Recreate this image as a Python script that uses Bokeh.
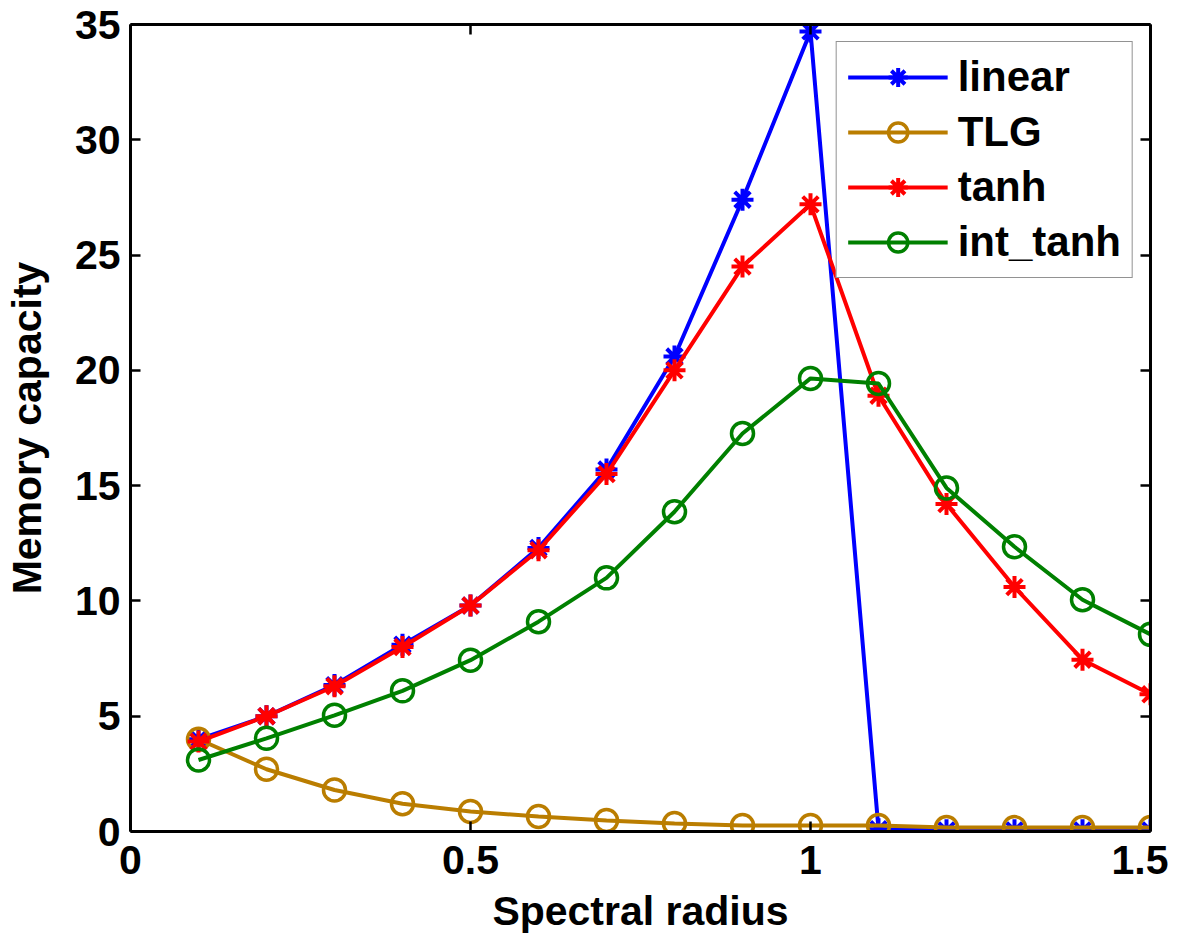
from bokeh.plotting import figure
from bokeh.models import Range1d, LinearAxis, FixedTicker, Legend
from bokeh.embed import file_html
from bokeh.resources import INLINE

x = [0.1, 0.2, 0.3, 0.4, 0.5, 0.6, 0.7, 0.8, 0.9, 1.0, 1.1, 1.2, 1.3, 1.4, 1.5]
linear = [4.0, 5.0, 6.35, 8.1, 9.8, 12.3, 15.7, 20.6, 27.4, 34.7, 0.1, 0.05, 0.05, 0.05, 0.05]
tlg = [4.0, 2.7, 1.8, 1.2, 0.87, 0.65, 0.48, 0.35, 0.26, 0.26, 0.26, 0.17, 0.17, 0.17, 0.17]
tanh = [3.9, 5.0, 6.3, 8.0, 9.8, 12.2, 15.5, 20.0, 24.5, 27.2, 18.9, 14.2, 10.6, 7.45, 5.95]
int_tanh = [3.1, 4.04, 5.04, 6.1, 7.43, 9.1, 11.0, 13.87, 17.26, 19.65, 19.43, 14.9, 12.35, 10.05, 8.55]

x_ticks = [0, 0.5, 1, 1.5]
y_ticks = [0, 5, 10, 15, 20, 25, 30, 35]

FONT = "Liberation Sans"
FS = "41px"

p = figure(width=1168, height=936, output_backend="svg", toolbar_location=None,
           x_range=Range1d(0, 1.5), y_range=Range1d(0, 35),
           min_border_left=130, min_border_right=18, min_border_top=24, min_border_bottom=102)
p.grid.visible = False
p.outline_line_color = None
p.background_fill_color = "white"
p.border_fill_color = "white"

def style_axis(ax, labels=True):
    ax.axis_line_width = 3
    ax.axis_line_color = "black"
    ax.major_tick_in = 10
    ax.major_tick_out = 0
    ax.major_tick_line_width = 2.5
    ax.major_tick_line_color = "black"
    ax.minor_tick_line_color = None
    if labels:
        ax.major_label_text_font = FONT
        ax.major_label_text_font_style = "bold"
        ax.major_label_text_font_size = FS
        ax.major_label_text_color = "black"
        ax.axis_label_text_font = FONT
        ax.axis_label_text_font_style = "bold"
        ax.axis_label_text_font_size = FS
        ax.axis_label_text_color = "black"
    else:
        ax.major_label_text_font_size = "1px"
        ax.major_label_text_alpha = 0
        ax.major_label_standoff = 0
        ax.axis_label_standoff = 0

p.xaxis.ticker = FixedTicker(ticks=x_ticks)
p.yaxis.ticker = FixedTicker(ticks=y_ticks)
p.xaxis.axis_label = "Spectral radius"
p.yaxis.axis_label = "Memory capacity"
style_axis(p.xaxis[0])
style_axis(p.yaxis[0])
p.xaxis.major_label_standoff = 14
p.xaxis.axis_label_standoff = 11
p.yaxis.major_label_standoff = 10
p.yaxis.axis_label_standoff = 22
p.xaxis.major_label_overrides = {0: "0", 0.5: "0.5", 1: "1", 1.5: "1.5"}

top = LinearAxis(ticker=FixedTicker(ticks=x_ticks))
right = LinearAxis(ticker=FixedTicker(ticks=y_ticks))
style_axis(top, labels=False)
style_axis(right, labels=False)
p.add_layout(top, "above")
p.add_layout(right, "right")

BLUE = "#0000FF"
GOLD = "#BA7D00"
RED = "#FF0000"
GREEN = "#008000"
LW = 4

r1 = p.line(x, linear, line_color=BLUE, line_width=LW)
s1 = p.scatter(x, linear, marker="asterisk", size=22, line_color=BLUE, line_width=4)
r2 = p.line(x, tlg, line_color=GOLD, line_width=LW)
s2 = p.scatter(x, tlg, marker="circle", size=22, line_color=GOLD, fill_color=None, line_width=3.5)
r3 = p.line(x, tanh, line_color=RED, line_width=LW)
s3 = p.scatter(x, tanh, marker="asterisk", size=22, line_color=RED, line_width=4)
r4 = p.line(x, int_tanh, line_color=GREEN, line_width=LW)
s4 = p.scatter(x, int_tanh, marker="circle", size=22, line_color=GREEN, fill_color=None, line_width=3.5)

legend = Legend(items=[("linear", [r1, s1]), ("TLG", [r2, s2]), ("tanh", [r3, s3]), ("int_tanh", [r4, s4])],
                location="top_right")
legend.label_text_font = FONT
legend.label_text_font_style = "bold"
legend.label_text_font_size = "42px"
legend.label_text_color = "black"
legend.glyph_width = 100
legend.glyph_height = 48
legend.label_height = 48
legend.label_standoff = 10
legend.spacing = 7
legend.padding = 11
legend.margin = 17
legend.border_line_color = "#262626"
legend.border_line_width = 1.5
legend.background_fill_color = "white"
legend.background_fill_alpha = 1.0
p.add_layout(legend, "center")

open("out.html", "w").write(file_html(p, INLINE))
